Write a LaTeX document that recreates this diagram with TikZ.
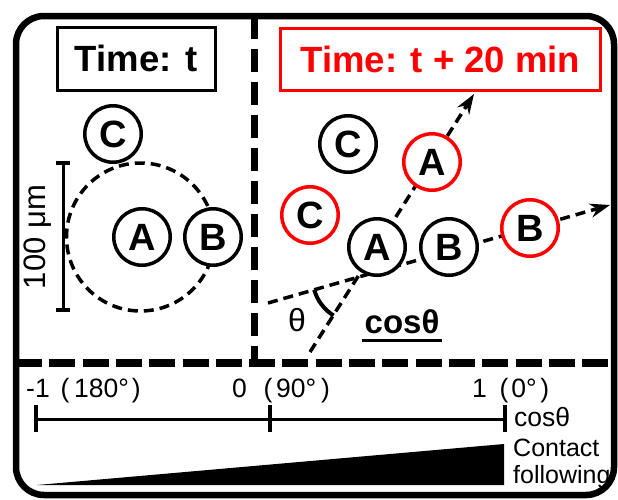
\documentclass[tikz,border=0pt]{standalone}
\usepackage{fontspec}
\setmainfont{Liberation Sans}
\usetikzlibrary{arrows.meta,calc}
\tikzset{
  cell/.style={circle, draw, line width=3.5pt, fill=white, minimum size=56.5pt, inner sep=0pt,
    font=\fontsize{38}{40}\selectfont\bfseries},
  redcell/.style={cell, draw=red},
  vpanel/.style={line width=7.5pt, dash pattern=on 23pt off 10pt},
  hpanel/.style={line width=7.5pt, dash pattern=on 26pt off 7.3pt},
  track/.style={line width=3.5pt, dash pattern=on 10pt off 6pt},
  trackarrow/.style={track, -{Stealth[length=20pt,width=14pt]}},
  titlebox/.style={draw, line width=3pt, inner sep=0pt, font=\fontsize{36.5}{40}\selectfont\bfseries},
  lbl/.style={inner sep=0pt, font=\fontsize{25}{27}\selectfont},
  axlbl/.style={inner sep=0pt, font=\fontsize{26.5}{28}\selectfont},
  bar/.style={line width=3pt},
  tick/.style={line width=4pt},
}
\begin{document}
\begin{tikzpicture}[x=1pt,y=-1pt]
\useasboundingbox (0,0) rectangle (618,499);

% panel separators
\draw[vpanel] (254.5,16) -- (254.5,363);
\draw[hpanel] (16,363) -- (614,363);

% title boxes
\node[titlebox, minimum width=158pt, minimum height=63pt] (tl) at (136,58.5) {Time: t};
\node[titlebox, draw=red, text=red, minimum width=320pt, minimum height=62pt] (tr) at (440.5,59) {Time: t + 20 min};

% left panel
\draw[track] (140.5,237) circle[radius=74pt];
\node[cell] (lC) at (113,134) {C};
\node[cell] (lA) at (142,237) {A};
\node[cell] (lB) at (213,237) {B};
\coordinate (sbT) at (63,163);
\coordinate (sbB) at (63,310);
\draw[bar] (sbT) -- (sbB);
\draw[tick] ($(sbT)+(-7,0)$) -- ($(sbT)+(7,0)$);
\draw[tick] ($(sbB)+(-7,0)$) -- ($(sbB)+(7,0)$);
\node[inner sep=0pt, rotate=90, font=\fontsize{31}{34}\selectfont] (sbl) at (38,237) {100 μm};

% right panel tracks
\coordinate (s1) at (268,303);
\coordinate (t1) at (610,205);
\coordinate (s2) at (310,352);
\coordinate (t2) at (474,94);
\draw[trackarrow] (s1) -- (t1);
\draw[trackarrow] (s2) -- (t2);
\coordinate (X) at (intersection of s1--t1 and s2--t2);
\draw[line width=4pt] ($(X)+(196:45pt)$) arc[start angle=196, end angle=238, radius=45pt];

\node[cell] (rC) at (348,144) {C};
\node[redcell] (rC2) at (310,215) {C};
\node[redcell] (rA2) at (432,162) {A};
\node[cell] (rA) at (377,247) {A};
\node[cell] (rB) at (449,247) {B};
\node[redcell] (rB2) at (530,228) {B};

\node[inner sep=0pt, font=\fontsize{32}{34}\selectfont] (th) at (297,320) {θ};
\node[inner sep=0pt, font=\fontsize{33}{36}\selectfont\bfseries] (cb) at (402,322) {cosθ};
\draw[line width=3pt] ([xshift=-2pt,yshift=-7pt]cb.base west) -- ([xshift=2pt,yshift=-7pt]cb.base east);

% bottom scale
\node[axlbl, anchor=base west] (m1) at (26,397) {-1\hspace{10.8pt}(\hspace{4.8pt}180°\hspace{3pt})};
\node[axlbl, anchor=base west] (z0) at (232,397) {0\hspace{16.7pt}(\hspace{3.8pt}90°\hspace{4.8pt})};
\node[axlbl, anchor=base west] (p1) at (472,397) {1\hspace{12.7pt}(\hspace{3pt}0°\hspace{3.5pt})};
\coordinate (aL) at (36,419);
\coordinate (aM) at (270,419);
\coordinate (aR) at (505,419);
\draw[bar] (aL) -- (aR);
\foreach \p in {aL,aM,aR} \draw[tick] ($(\p)+(0,-14)$) -- ($(\p)+(0,13)$);
\node[inner sep=0pt, anchor=west, font=\fontsize{26.5}{28}\selectfont] (cosl) at (514,417) {cosθ};
\fill (37,485) -- (504,444) -- (504,485) -- cycle;
\node[lbl, anchor=west, align=left] (cf) at (513,464) {Contact\\following};

% outer border
\draw[line width=6.5pt, rounded corners=28pt] (16,16) rectangle (614,495);
\end{tikzpicture}
\end{document}
